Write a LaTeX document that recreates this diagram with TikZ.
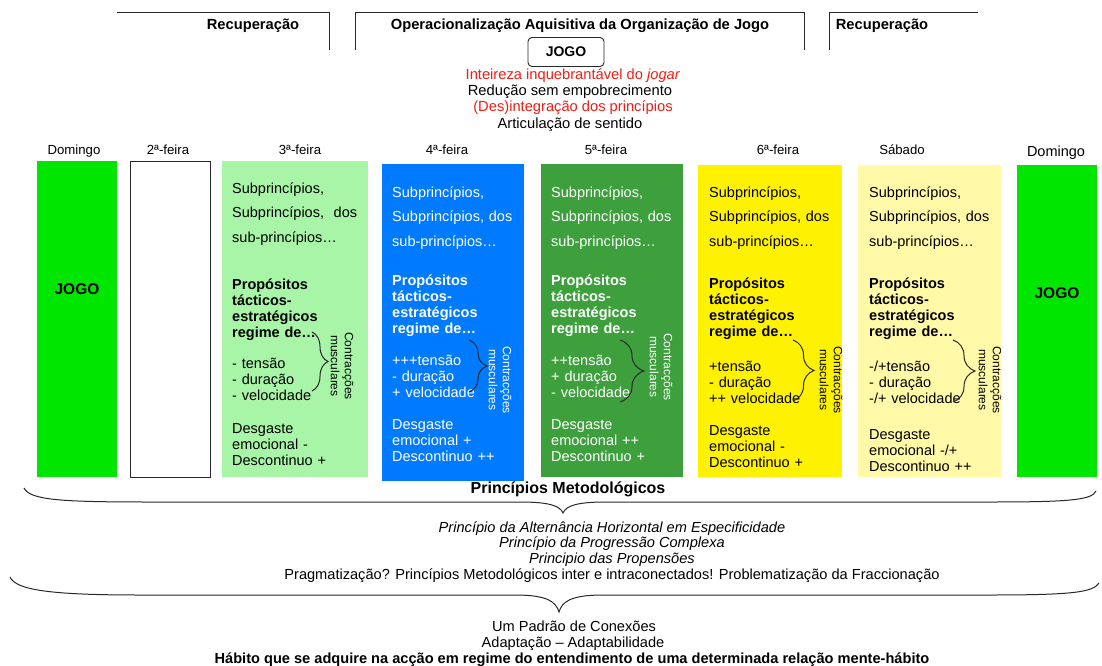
\documentclass[tikz,border=0pt]{standalone}
\usepackage{fontspec}
\setmainfont{Liberation Sans}
\usetikzlibrary{decorations.pathreplacing}
\definecolor{gamegreen}{RGB}{0,230,0}
\definecolor{lightgreen}{RGB}{168,245,168}
\definecolor{wedblue}{RGB}{0,122,255}
\definecolor{midgreen}{RGB}{61,160,61}
\definecolor{frisun}{RGB}{255,242,0}
\definecolor{paleyellow}{RGB}{255,249,168}
\definecolor{accentred}{RGB}{240,30,20}
\definecolor{inkline}{RGB}{40,40,40}
\begin{document}
\begin{tikzpicture}[x=1pt,y=-1pt,
  txt/.style={inner sep=0pt, anchor=base, font=\fontsize{14.7}{16}\selectfont},
  hdr/.style={inner sep=0pt, anchor=base, font=\bfseries\fontsize{14.7}{16}\selectfont},
  daylbl/.style={inner sep=0pt, anchor=base, font=\fontsize{13.2}{16}\selectfont},
  subtxt/.style={inner sep=0pt, anchor=base west, text width=136pt, align=left, font=\fontsize{14.5}{24.5}\selectfont},
  proptxt/.style={inner sep=0pt, anchor=base west, text width=136pt, align=left, font=\bfseries\fontsize{14.5}{16}\selectfont},
  regtxt/.style={inner sep=0pt, anchor=base west, text width=136pt, align=left, font=\fontsize{14.5}{16}\selectfont},
  cmtxt/.style={inner sep=0pt, rotate=-90, align=center, font=\fontsize{12}{14}\selectfont},
  jogotxt/.style={inner sep=0pt, font=\bfseries\fontsize{15.5}{18}\selectfont},
  brc/.style={draw=inkline, line width=1pt, decorate, decoration={brace, amplitude=#1}},
  brc/.default=18pt,
  frame/.style={draw=inkline, line width=0.9pt},
  bigbrace/.style={draw=inkline, line width=1pt}
]
\useasboundingbox (0,0) rectangle (1102,666);
\fill[white] (0,0) rectangle (1102,666);

% --- header brackets
\draw[frame] (117,12.5) -- (329,12.5) -- (329,50);
\draw[frame] (355,50) -- (355,12.5) -- (804,12.5) -- (804,50);
\draw[frame] (829,50) -- (829,12.5) -- (978,12.5);
\node[hdr] (rec1) at (253,30) {Recuperação};
\node[hdr] (oper) at (580,30) {Operacionalização Aquisitiva da Organização de Jogo};
\node[hdr] (rec2) at (882,30) {Recuperação};

\node[draw=inkline, line width=0.9pt, rounded corners=4pt, minimum width=76pt, minimum height=29pt,
      font=\bfseries\fontsize{14}{16}\selectfont] (jogo) at (566,52) {JOGO};
\node[txt, text=accentred] (l1) at (573,80) {Inteireza inquebrantável do \textit{jogar}};
\node[txt] (l2) at (570,96) {Redução sem empobrecimento};
\node[txt, text=accentred] (l3) at (573,112) {(Des)integração dos princípios};
\node[txt] (l4) at (570,128.5) {Articulação de sentido};

% --- day labels
\node[daylbl] (dl1) at (74,154) {Domingo};
\node[daylbl] (dl2) at (168,154) {2ª-feira};
\node[daylbl] (dl3) at (300,154) {3ª-feira};
\node[daylbl] (dl4) at (447,154) {4ª-feira};
\node[daylbl] (dl5) at (606,154) {5ª-feira};
\node[daylbl] (dl6) at (778,154) {6ª-feira};
\node[daylbl] (dl7) at (902,154) {Sábado};
\node[daylbl, font=\fontsize{14.5}{16}\selectfont] (dl8) at (1056,157) {Domingo};

% --- day columns
\fill[gamegreen] (37,161) rectangle (117,477);
\draw[frame, fill=white] (130,161) rectangle (210,477);
\fill[lightgreen] (222,161) rectangle (368,477);
\fill[wedblue] (382,164) rectangle (524,481);
\fill[midgreen] (541,164) rectangle (683,477);
\fill[frisun] (698,165) rectangle (842,477);
\fill[paleyellow] (858,165) rectangle (1001,477);
\fill[gamegreen] (1017,165) rectangle (1097,477);

\node[jogotxt] (j1) at (77,289) {JOGO};
\node[jogotxt] (j2) at (1057,293) {JOGO};

% Tuesday
\node[subtxt] (c3a) at (232,193) {Subprincípios,\\Subprincípios,\ \ dos\\sub-princípios…};
\node[proptxt] (c3b) at (232,289) {Propósitos\\tácticos-\\estratégicos\\regime de…};
\node[regtxt] (c3c) at (232,368) {- tensão\\- duração\\- velocidade};
\node[regtxt] (c3d) at (232,433) {Desgaste\\emocional -\\Descontinuo +};
\draw[brc=16pt] (312,332) -- (312,391);
\node[cmtxt] (c3e) at (342,366) {Contracções\\musculares};

% Wednesday
\begin{scope}[every node/.append style={text=white}]
\node[subtxt] (c4a) at (392,197) {Subprincípios,\\Subprincípios, dos\\sub-princípios…};
\node[proptxt] (c4b) at (392,285) {Propósitos\\tácticos-\\estratégicos\\regime de…};
\node[regtxt] (c4c) at (392,365) {+++tensão\\- duração\\+ velocidade};
\node[regtxt] (c4d) at (392,429) {Desgaste\\emocional +\\Descontinuo ++};
\node[cmtxt] (c4e) at (500,380) {Contracções\\musculares};
% Thursday
\node[subtxt] (c5a) at (551,197) {Subprincípios,\\Subprincípios, dos\\sub-princípios…};
\node[proptxt] (c5b) at (551,285) {Propósitos\\tácticos-\\estratégicos\\regime de…};
\node[regtxt] (c5c) at (551,365) {++tensão\\+ duração\\- velocidade};
\node[regtxt] (c5d) at (551,429) {Desgaste\\emocional ++\\Descontinuo +};
\node[cmtxt] (c5e) at (661,367) {Contracções\\musculares};
\end{scope}
\draw[brc=18pt] (469,340) -- (469,392);
\draw[brc=24pt] (620,340) -- (620,402);

% Friday
\node[subtxt] (c6a) at (709,197) {Subprincípios,\\Subprincípios, dos\\sub-princípios…};
\node[proptxt] (c6b) at (709,288) {Propósitos\\tácticos-\\estratégicos\\regime de…};
\node[regtxt] (c6c) at (709,371) {+tensão\\- duração\\++ velocidade};
\node[regtxt] (c6d) at (709,435) {Desgaste\\emocional -\\Descontinuo +};
\draw[brc=21pt] (793,340) -- (793,401);
\node[cmtxt] (c6e) at (831,380) {Contracções\\musculares};

% Saturday
\node[subtxt] (c7a) at (869,197) {Subprincípios,\\Subprincípios, dos\\sub-princípios…};
\node[proptxt] (c7b) at (869,288) {Propósitos\\tácticos-\\estratégicos\\regime de…};
\node[regtxt] (c7c) at (869,371) {-/+tensão\\- duração\\-/+ velocidade};
\node[regtxt] (c7d) at (869,439) {Desgaste\\emocional -/+\\Descontinuo ++};
\draw[brc=22pt] (953,340) -- (953,402);
\node[cmtxt] (c7e) at (990,380) {Contracções\\musculares};

% --- methodological principles
\node[hdr, font=\bfseries\fontsize{16}{18}\selectfont] (pm) at (568,493.5) {Princípios Metodológicos};
\draw[bigbrace] (24,488) .. controls (30,500) and (60,502) .. (150,502) -- (520,502)
  .. controls (550,502) and (560,506) .. (563,513)
  .. controls (566,506) and (576,502) .. (606,502) -- (990,502)
  .. controls (1070,502) and (1092,500) .. (1096,491);

\node[txt, font=\itshape\fontsize{14.6}{16}\selectfont] (p1) at (612,532) {Princípio da Alternância Horizontal em Especificidade};
\node[txt, font=\itshape\fontsize{14.6}{16}\selectfont] (p2) at (612,547) {Princípio da Progressão Complexa};
\node[txt, font=\itshape\fontsize{14.6}{16}\selectfont] (p3) at (612,563) {Principio das Propensões};
\node[txt, font=\fontsize{14.6}{16}\selectfont] (p4) at (612,579) {Pragmatização? Princípios Metodológicos inter e intraconectados! Problematização da Fraccionação};

\draw[bigbrace] (10,577) .. controls (16,590) and (50,595) .. (140,595) -- (515,595)
  .. controls (548,595) and (556,602) .. (559,612)
  .. controls (562,602) and (570,595) .. (603,595) -- (990,595)
  .. controls (1075,595) and (1093,592) .. (1099,583);

\node[txt, font=\fontsize{14.6}{16}\selectfont] (b1) at (574,631) {Um Padrão de Conexões};
\node[txt, font=\fontsize{14.6}{16}\selectfont] (b2) at (573,647) {Adaptação – Adaptabilidade};
\node[txt, font=\bfseries\fontsize{14.6}{16}\selectfont] (b3) at (572,663) {Hábito que se adquire na acção em regime do entendimento de uma determinada relação mente-hábito};
\end{tikzpicture}
\end{document}
